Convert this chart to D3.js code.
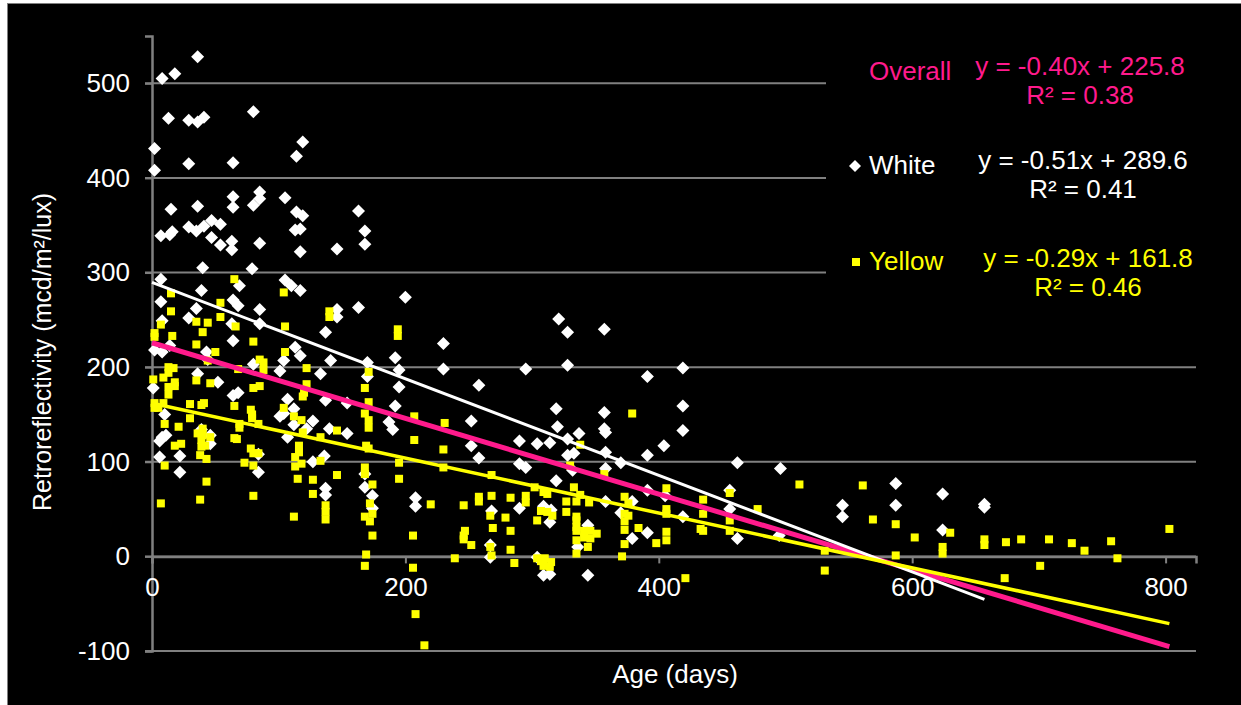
<!DOCTYPE html>
<html>
<head>
<meta charset="utf-8">
<script src="https://cdn.jsdelivr.net/npm/d3@7"></script>
<style>
  body { margin: 0; background: #fff; }
  text { font-family: "Liberation Sans", Arial, sans-serif; }
</style>
</head>
<body>
<svg id="chart" width="1241" height="705"></svg>
<script>
// [age in days, retroreflectivity]
const whitePoints = [
  [36,528],[8,505],[18,510],[13,463],[29,461],[36,459],[41,464],[80,470],[2,431],[2,408],[29,415],[64,416],[119,438],[114,423],
  [64,380],[64,369],[85,385],[85,378],[80,371],[105,379],[15,367],[36,370],[114,364],[119,360],
  [7,339],[14,340],[16,343],[29,348],[35,344],[41,349],[47,355],[54,351],[47,337],[54,329],[63,333],[63,324],[85,331],[113,345],[117,346],[117,322],[146,325],
  [40,305],[79,304],[7,293],[105,292],[110,286],[117,281],[69,286],[39,281],[7,269],[64,271],[68,265],[35,262],[85,261],[29,252],[8,249],[146,261],[146,253],[63,246],[85,246],[137,237],
  [64,228],[113,221],[117,212],[2,218],[8,216],[14,223],[43,216],[44,208],[141,207],[104,207],[80,203],[101,196],[133,193],[36,193],[52,184],[1,178],[64,170],[68,173],[107,166],[137,165],[112,156],[10,150],[101,148],[104,151],[112,139],[127,143],[122,135],[140,135],[39,134],[46,128],[46,119],[107,126],[8,126],[11,128],[6,122],[6,105],[22,106],[22,89],[84,108],[84,89],[127,100],[136,106],[137,72],[137,65],
  [163,365],[168,344],[168,330],[200,274],[163,263],[321,251],[230,225],[192,210],[230,198],[170,205],[170,190],[195,197],[295,198],[195,179],[258,181],[154,162],[192,159],[319,156],[187,142],[190,134],[252,143],[154,130],[320,137],[290,122],[304,119],[314,120],[252,117],[258,104],[290,98],[295,94],[319,80],
  [168,87],[168,73],[174,64],[174,51],[208,62],[208,53],[268,48],[290,51],[309,53],[315,49],[314,36],[267,12],[267,-1],[304,-1],[309,-20],[314,-19],
  [328,237],[357,240],[328,202],[391,190],[419,199],[357,152],[419,159],[357,135],[358,131],[337,130],[419,133],[328,124],[404,117],[328,107],[333,109],[358,110],[370,99],[391,107],[462,99],[496,93],[358,93],[332,91],[391,70],[405,64],[456,70],[358,58],[379,58],[370,46],[419,42],[456,50],[344,33],[379,19],[391,25],[462,19],[495,22],[336,10],[344,-20],
  [545,54],[545,42],[587,77],[587,54],[624,66],[624,28],[657,52],[657,55]
];

const yellowPoints = [
  [65,293],[104,279],[15,278],[54,268],[15,259],[54,253],[140,259],[140,253],[35,248],[44,247],[7,245],[66,243],[105,243],
  [2,236],[2,232],[16,233],[40,237],[80,227],[35,224],[50,216],[105,216],[85,208],[88,205],[88,197],[44,207],[68,198],[13,200],[17,199],[13,194],[122,199],[1,187],[9,189],[35,186],[46,183],[18,184],[18,180],[13,179],[13,171],[122,182],[80,178],[85,180],[119,169],[120,173],[2,162],[2,157],[9,162],[5,157],[30,161],[39,160],[41,162],[65,159],[104,157],[78,155],[79,150],[30,146],[112,148],[118,144],[10,140],[79,146],[69,140],[69,136],[84,140],[21,137],[36,130],[40,135],[40,128],[46,126],[39,123],[42,117],[39,116],[65,125],[67,124],[119,131],[133,126],[146,133],[18,117],[23,119],[78,114],[80,109],[84,109],[38,107],[43,103],[116,117],[116,110],[113,105],[113,95],[118,98],[133,101],[10,96],[73,99],[80,96],[146,86],[43,79],[115,82],[127,81],[127,66],[80,64],[38,60],[7,56],[137,54],[137,47],[137,39],[112,42],
  [194,240],[194,233],[171,195],[168,178],[171,163],[168,151],[171,144],[171,136],[207,148],[231,141],[207,123],[169,117],[171,114],[230,113],[195,99],[230,94],[168,94],[168,87],[268,86],[195,82],
  [174,76],[302,73],[309,68],[312,66],[172,56],[220,55],[246,54],[258,63],[258,58],[268,64],[283,62],[295,64],[295,57],[168,42],[172,37],[174,45],[267,43],[279,41],[304,38],[307,48],[312,47],[316,43],[174,22],[206,22],[247,27],[246,22],[246,18],[252,12],[269,30],[283,27],[267,10],[268,1],[283,7],[169,2],[168,-10],[239,-2],[286,-7],[206,-12],[304,-2],[307,-5],[310,-2],[315,-6],[314,-11],[309,-10],[208,-61],[215,-94],
  [379,151],[338,118],[330,96],[357,87],[333,73],[338,65],[327,58],[335,58],[345,57],[373,63],[376,56],[406,72],[435,60],[456,67],[478,50],[511,76],[327,47],[335,42],[335,38],[335,31],[335,27],[341,27],[346,27],[351,24],[341,20],[346,19],[344,10],[335,17],[335,3],[373,45],[373,37],[373,28],[373,13],[371,0],[376,43],[384,30],[398,14],[406,50],[406,45],[406,26],[406,17],[435,45],[433,29],[435,27],[456,38],[456,27],[421,-23],
  [561,75],[569,39],[587,34],[587,1],[602,20],[624,10],[624,3],[630,25],[657,18],[657,12],[674,15],[686,18],[708,18],[726,14],[736,6],[757,16],[762,-2],[803,29],[531,6],[531,-15],[673,-23],[701,-10]
];

const trendNames = ['Overall', 'White', 'Yellow'];
const trendSlopes = [-0.40, -0.51, -0.29];
const trendIntercepts = [225.8, 289.6, 161.8];
const trendR2 = ['0.38', '0.41', '0.46'];
const trendColors = ['#ff1a8c', '#ffffff', '#ffff00'];

const xTicks = [0, 200, 400, 600, 800];
const yTicks = [-100, 0, 100, 200, 300, 400, 500];

var svg = d3.select('#chart');
var gridColor = '#808080';

// frame
svg.append('rect').attr('width', 1241).attr('height', 705).attr('fill', '#fff');
svg.append('rect')
    .attr('x', 7.5).attr('y', 3.5)
    .attr('width', 1240).attr('height', 710)
    .attr('fill', '#000')
    .attr('stroke', '#7f7f7f').attr('stroke-width', 1);

var x = d3.scaleLinear().domain([0, 824]).range([152, 1196]);
var y = d3.scaleLinear().domain([-100, 550]).range([651, 36]);

// gridlines
svg.append('g').selectAll('line')
    .data(yTicks)
    .enter().append('line')
    .attr('x1', 145).attr('x2', x(824))
    .attr('y1', d => y(d)).attr('y2', d => y(d))
    .attr('stroke', gridColor).attr('stroke-width', 2);

// y axis (plain hyphen for negatives, like the original)
var yAxis = svg.append('g')
    .attr('transform', 'translate(' + x(0) + ',0)')
    .call(d3.axisLeft(y).tickValues(yTicks).tickSize(7).tickPadding(15).tickFormat(d => String(d)));
yAxis.select('.domain').attr('stroke', gridColor).attr('stroke-width', 2.5);
yAxis.selectAll('.tick line').attr('stroke', gridColor).attr('stroke-width', 2);
yAxis.selectAll('.tick text')
    .attr('fill', '#fff')
    .style('font-size', '26px')
    .style('font-family', '"Liberation Sans", Arial, sans-serif');

// x axis sits on the zero line
var xAxis = svg.append('g')
    .attr('transform', 'translate(0,' + y(0) + ')')
    .call(d3.axisBottom(x).tickValues(xTicks).tickSize(7).tickPadding(14).tickFormat(d => String(d)));
xAxis.select('.domain').attr('stroke', gridColor).attr('stroke-width', 2.5);
xAxis.selectAll('.tick line').attr('stroke', gridColor).attr('stroke-width', 2);
xAxis.selectAll('.tick text')
    .attr('fill', '#fff')
    .style('font-size', '26px')
    .style('font-family', '"Liberation Sans", Arial, sans-serif');

// legend panel (covers the grid on the right)
svg.append('rect')
    .attr('x', 826).attr('y', 40)
    .attr('width', 380).attr('height', 262)
    .attr('fill', '#000');

var diamond = function(r) {
    return 'M0,' + (-r) + 'L' + r + ',0L0,' + r + 'L' + (-r) + ',0Z';
};

// markers
svg.append('g').selectAll('path')
    .data(whitePoints)
    .enter().append('path')
    .attr('d', diamond(6.5))
    .attr('transform', d => 'translate(' + x(d[0]) + ',' + y(d[1]) + ')')
    .attr('fill', '#fff');

svg.append('g').selectAll('rect')
    .data(yellowPoints)
    .enter().append('rect')
    .attr('x', d => x(d[0]) - 4)
    .attr('y', d => y(d[1]) - 4)
    .attr('width', 8).attr('height', 8)
    .attr('fill', '#ffff00');

// trend lines
var whiteMax = d3.max(whitePoints, d => d[0]);
var yellowMax = d3.max(yellowPoints, d => d[0]);
var trendEnds = [Math.max(whiteMax, yellowMax), whiteMax, yellowMax];
var trendWidths = [5, 3, 3.5];

[0, 1, 2].forEach(function(i) {
    var x2 = trendEnds[i];
    svg.append('line')
        .attr('x1', x(0)).attr('y1', y(trendIntercepts[i]))
        .attr('x2', x(x2)).attr('y2', y(trendIntercepts[i] + trendSlopes[i] * x2))
        .attr('stroke', trendColors[i])
        .attr('stroke-width', trendWidths[i]);
});

// legend entries
var legendY = [80, 174, 270];
svg.append('path')
    .attr('d', diamond(6))
    .attr('transform', 'translate(855,166)')
    .attr('fill', '#fff');
svg.append('rect')
    .attr('x', 852).attr('y', 258)
    .attr('width', 8).attr('height', 8)
    .attr('fill', '#ffff00');

trendNames.forEach(function(name, i) {
    svg.append('text')
        .attr('x', 869).attr('y', legendY[i])
        .attr('fill', trendColors[i])
        .style('font-size', '26px')
        .text(name);
});

// trendline equations
var eqX = [1080, 1083, 1088];
var eqY = [75, 169, 267];
trendNames.forEach(function(name, i) {
    var s = trendSlopes[i].toFixed(2);
    svg.append('text')
        .attr('x', eqX[i]).attr('y', eqY[i])
        .attr('text-anchor', 'middle')
        .attr('fill', trendColors[i])
        .style('font-size', '26px')
        .text('y = ' + s + 'x + ' + trendIntercepts[i].toFixed(1));
    svg.append('text')
        .attr('x', eqX[i]).attr('y', eqY[i] + 29)
        .attr('text-anchor', 'middle')
        .attr('fill', trendColors[i])
        .style('font-size', '26px')
        .text('R² = ' + trendR2[i]);
});

// axis titles
svg.append('text')
    .attr('transform', 'translate(51,352) rotate(-90)')
    .attr('text-anchor', 'middle')
    .attr('fill', '#fff')
    .style('font-size', '25px')
    .text('Retroreflectivity (mcd/m²/lux)');

svg.append('text')
    .attr('x', 675).attr('y', 683)
    .attr('text-anchor', 'middle')
    .attr('fill', '#fff')
    .style('font-size', '26px')
    .text('Age (days)');
</script>
</body>
</html>
